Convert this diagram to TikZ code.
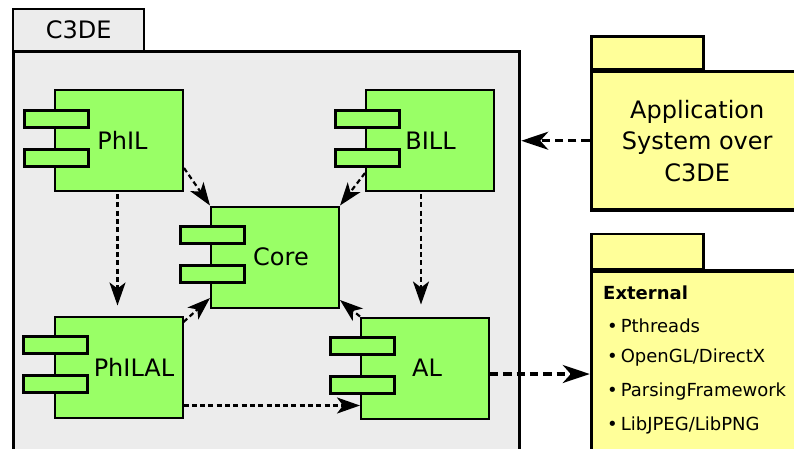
\documentclass[tikz,border=0pt]{standalone}
\usepackage{fontspec}
\setmainfont{DejaVu Sans}
\usepackage{tikz}
\usetikzlibrary{arrows.meta,positioning}
\definecolor{compgreen}{HTML}{99FF66}
\definecolor{pkgyellow}{HTML}{FFFF99}
\definecolor{framegray}{HTML}{ECECEC}
\newcommand{\biglabel}{\fontsize{24}{31.5}\selectfont}
\newcommand{\listfont}{\fontsize{18}{22}\selectfont}
\tikzset{
    compbody/.style={draw=black,fill=compgreen,line width=2pt,
      minimum width=128pt,minimum height=101pt,inner sep=0pt},
    compport/.style={draw=black,fill=compgreen,line width=3pt,
      minimum width=64pt,minimum height=17pt,inner sep=0pt},
    complabel/.style={inner sep=0pt,font=\biglabel},
    pkgtab/.style={draw=black,fill=pkgyellow,line width=2.5pt,
      minimum width=112pt,minimum height=33pt,inner sep=0pt},
    pkgbody/.style={draw=black,fill=pkgyellow,line width=3.5pt,
      minimum width=211.5pt,inner sep=0pt,font=\biglabel,align=center},
    listitem/.style={anchor=base west,inner sep=0pt,font=\listfont},
    deparrow/.style={-{Stealth[length=23pt,width=16pt,inset=6pt]},draw=black,
      line width=2.2pt,dash pattern=on 5pt off 3.3pt},
    bigarrow/.style={-{Stealth[length=27pt,width=18pt,inset=8pt]},draw=black,
      line width=3.2pt,dash pattern=on 8.3pt off 5pt}
}

\begin{document}
\begin{tikzpicture}[x=1pt,y=-1pt]
    \useasboundingbox (0,0) rectangle (794,448);
    \clip (0,0) rectangle (794,448);
    % C3DE frame
    \node[draw=black,fill=framegray,line width=3.5pt,minimum width=506pt,
      minimum height=430pt,inner sep=0pt] (c3de) at (266.5,266.5) {};
    \node[draw=black,fill=framegray,line width=2pt,minimum width=130.7pt,
      minimum height=41.7pt,inner sep=0pt,font=\biglabel] (c3de-tab) at (78.6,30.2) {C3DE};
    % components
    \node[compbody] (phil) at (119,140.5) {};
    \node[compport] (phil-p1) at ([xshift=2pt,yshift=22pt]phil.west) {};
    \node[compport] (phil-p2) at ([xshift=2pt,yshift=-17pt]phil.west) {};
    \node[complabel] (phil-t) at ([xshift=3.5pt]phil.center) {PhIL};
    \node[compbody] (bill) at (430,140.5) {};
    \node[compport] (bill-p1) at ([xshift=2pt,yshift=22pt]bill.west) {};
    \node[compport] (bill-p2) at ([xshift=2pt,yshift=-17pt]bill.west) {};
    \node[complabel] (bill-t) at ([xshift=0.5pt]bill.center) {BILL};
    \node[compbody] (core) at (275,257) {};
    \node[compport] (core-p1) at ([xshift=2pt,yshift=22pt]core.west) {};
    \node[compport] (core-p2) at ([xshift=2pt,yshift=-17pt]core.west) {};
    \node[complabel] (core-t) at ([xshift=6pt]core.center) {Core};
    \node[compbody] (philal) at (118.5,367) {};
    \node[compport] (philal-p1) at ([xshift=2pt,yshift=22pt]philal.west) {};
    \node[compport] (philal-p2) at ([xshift=2pt,yshift=-17pt]philal.west) {};
    \node[complabel] (philal-t) at ([xshift=15.5pt]philal.center) {PhILAL};
    \node[compbody] (al) at (425,368) {};
    \node[compport] (al-p1) at ([xshift=2pt,yshift=22pt]al.west) {};
    \node[compport] (al-p2) at ([xshift=2pt,yshift=-17pt]al.west) {};
    \node[complabel] (al-t) at ([xshift=2pt]al.center) {AL};
    % packages
    \node[pkgtab] (app-tab) at (647.5,53) {};
    \node[pkgbody,minimum height=138.5pt] (app) at (697.25,140.75) {Application\\System over\\C3DE};
    \node[pkgtab,minimum height=35pt] (ext-tab) at (647.5,251.5) {};
    \node[pkgbody,minimum height=229pt] (ext) at (697.25,385.5) {};
    \node[listitem,font=\listfont\bfseries] (ext-title) at (603,299) {External};
    \node[listitem] (ext-pthreads) at (607,332.7) {\textbullet\,Pthreads};
    \node[listitem] (ext-opengl) at (607,362.7) {\textbullet\,OpenGL/DirectX};
    \node[listitem] (ext-parsing) at (607,396.5) {\textbullet\,ParsingFramework};
    \node[listitem] (ext-libjpeg) at (607,430.7) {\textbullet\,LibJPEG/LibPNG};
    % dependencies
    \draw[deparrow] ([yshift=-27.5pt]phil.east) -- (core.north west);
    \draw[deparrow] ([yshift=-32.5pt]bill.west) -- (core.north east);
    \draw[deparrow] ([yshift=45pt]philal.east) -- ([yshift=-41pt]core.west);
    \draw[deparrow] (al.north west) -- ([yshift=-43pt]core.east);
    \draw[deparrow,shorten <=2pt,shorten >=10pt] ([xshift=-1.5pt]phil.south) -- ([xshift=-1.5pt]phil.south |- philal.north);
    \draw[deparrow,shorten <=2pt,shorten >=12pt] ([xshift=-9pt]bill.south) -- ([xshift=-9pt]bill.south |- al.north);
    \draw[deparrow] ([yshift=-38.5pt]philal.east) -- ([yshift=-38.5pt]philal.east -| al.west);
    \draw[bigarrow] (app.west) -- (app.west -| c3de.east);
    \draw[bigarrow] ([yshift=-6pt]al.east) -- ([yshift=-6pt]al.east -| ext.west);
\end{tikzpicture}
\end{document}
